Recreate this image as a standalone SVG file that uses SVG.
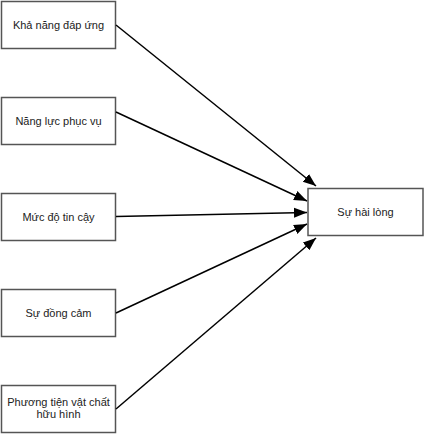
<svg xmlns="http://www.w3.org/2000/svg" width="424" height="434" viewBox="0 0 424 434">
<style>
.box{fill:#fff;stroke:#555;stroke-width:1.5}
.t{font-family:"Liberation Sans",Arial,sans-serif;font-size:11px;fill:#222;text-anchor:middle}
.c{stroke:#000;stroke-width:1.5;fill:none}
</style>
<defs>
<marker id="a" markerUnits="userSpaceOnUse" markerWidth="14" markerHeight="12" refX="13" refY="5" orient="auto" viewBox="0 0 14 10">
<path d="M0,0 L13,5 L0,10 Z" fill="#000"/>
</marker>
</defs>
<rect width="424" height="434" fill="#fff"/>
<g id="n1"><rect class="box" x="1.5" y="1.5" width="114" height="47"/><text class="t" x="58.5" y="29">Khả năng đáp ứng</text></g>
<g id="n2"><rect class="box" x="1.5" y="97.5" width="114" height="47"/><text class="t" x="58.5" y="125">Năng lực phục vụ</text></g>
<g id="n3"><rect class="box" x="1.5" y="193.5" width="114" height="47"/><text class="t" x="58.5" y="221">Mức độ tin cậy</text></g>
<g id="n4"><rect class="box" x="1.5" y="289.5" width="114" height="47"/><text class="t" x="58.5" y="317">Sự đồng cảm</text></g>
<g id="n5"><rect class="box" x="1.5" y="385.5" width="114" height="47"/><text class="t" x="58.5" y="406">Phương tiện vật chất</text><text class="t" x="58.5" y="418">hữu hình</text></g>
<g id="n6"><rect class="box" x="308" y="188.5" width="115" height="47"/><text class="t" x="365.5" y="216">Sự hài lòng</text></g>
<g id="connectors">
<line class="c" x1="116" y1="25" x2="316" y2="186" marker-end="url(#a)"/>
<line class="c" x1="116" y1="112" x2="307" y2="201" marker-end="url(#a)"/>
<line class="c" x1="116" y1="216.5" x2="307" y2="212.5" marker-end="url(#a)"/>
<line class="c" x1="116" y1="313" x2="307" y2="224" marker-end="url(#a)"/>
<line class="c" x1="116" y1="409" x2="316" y2="238" marker-end="url(#a)"/>
</g>
</svg>
